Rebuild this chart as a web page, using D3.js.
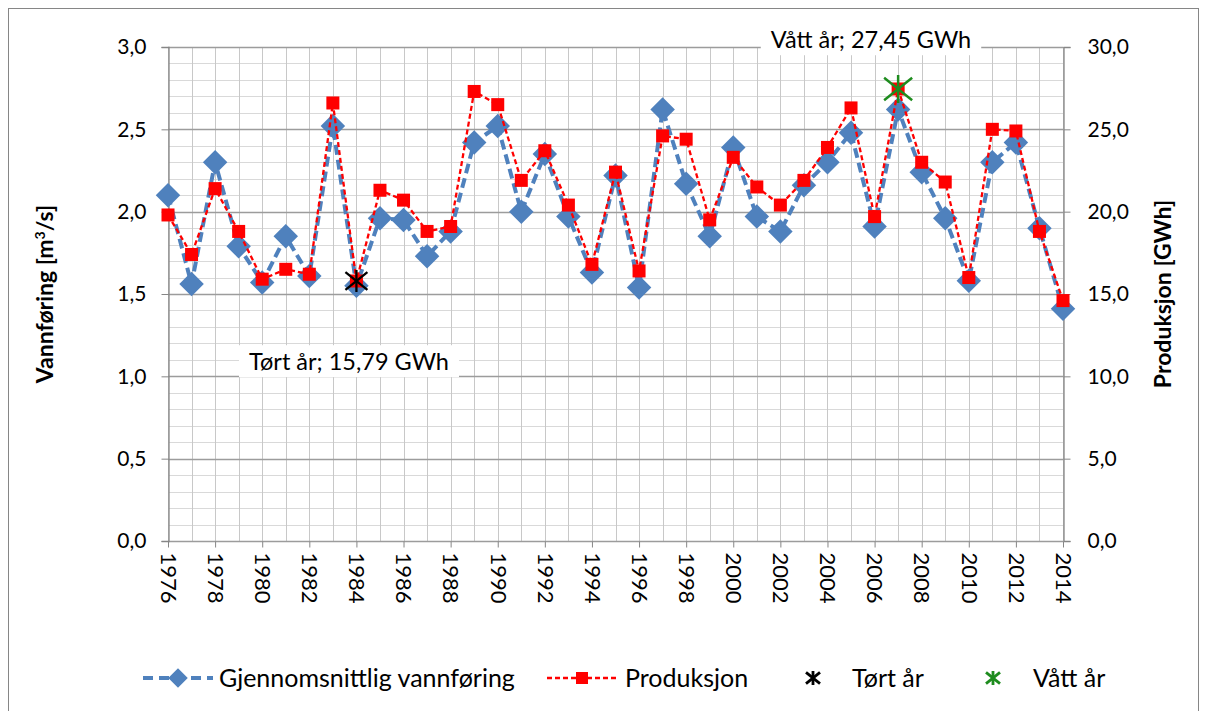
<!DOCTYPE html>
<html lang="no">
<head>
<meta charset="utf-8">
<title>Vannføring og produksjon</title>
<script src="https://d3js.org/d3.v7.min.js"></script>
<style>
  body { margin: 0; background: #fff; }
  text { font-family: Lato, "Open Sans", sans-serif; fill: #000; }
</style>
</head>
<body>
<div id="chart"></div>
<script>
    // data
    var years = d3.range(1976, 2015);
    var vannforing = [2.10, 1.56, 2.30, 1.79, 1.57, 1.85, 1.61, 2.52, 1.55, 1.96,
                      1.95, 1.73, 1.88, 2.42, 2.52, 2.00, 2.35, 1.97, 1.63, 2.22,
                      1.54, 2.62, 2.17, 1.85, 2.39, 1.97, 1.88, 2.16, 2.30, 2.48,
                      1.91, 2.62, 2.24, 1.96, 1.58, 2.30, 2.42, 1.90, 1.41];
    var produksjon = [19.8, 17.4, 21.4, 18.8, 15.9, 16.5, 16.2, 26.6, 15.79, 21.3,
                      20.7, 18.8, 19.1, 27.3, 26.5, 21.9, 23.7, 20.4, 16.8, 22.4,
                      16.4, 24.6, 24.4, 19.5, 23.3, 21.5, 20.4, 21.9, 23.9, 26.3,
                      19.7, 27.45, 23.0, 21.8, 16.0, 25.0, 24.9, 18.8, 14.6];
    var tortAr = {year: 1984, value: 15.79, label: "Tørt år; 15,79 GWh"};
    var vattAr = {year: 2007, value: 27.45, label: "Vått år; 27,45 GWh"};
    var leftTicks = [0, 0.5, 1, 1.5, 2, 2.5, 3];
    var rightTicks = [0, 5, 10, 15, 20, 25, 30];
    var legendItems = ["Gjennomsnittlig vannføring", "Produksjon", "Tørt år", "Vått år"];

    var w = 1206, h = 711;
    var blue = "#4f81bd", red = "#ff0000", green = "#1e8c1e";
    var comma = function(d) { return d3.format(".1f")(d).replace(".", ","); };

    var svg = d3.select("#chart").append("svg").attr("width", w).attr("height", h);

    // outer frame
    svg.append("rect").attr("x", 8.5).attr("y", 8.5).attr("width", 1190).attr("height", 720)
        .attr("fill", "white").attr("stroke", "#868686");

    // scales
    var x = d3.scaleLinear().domain([1976, 2014]).range([168, 1063]);
    var yL = d3.scaleLinear().domain([0, 3]).range([541, 47]);
    var yR = d3.scaleLinear().domain([0, 30]).range([541, 47]);

    // grid
    var grid = svg.append("g");
    grid.selectAll("line.minor").data(d3.range(0, 3.01, 0.1)).enter().append("line")
        .attr("x1", x(1976)).attr("x2", x(2014))
        .attr("y1", function(d) { return Math.round(yL(d)) + 0.5; })
        .attr("y2", function(d) { return Math.round(yL(d)) + 0.5; })
        .attr("stroke", "#d9d9d9").attr("stroke-width", 1);
    grid.selectAll("line.vert").data(years).enter().append("line")
        .attr("x1", function(d) { return Math.round(x(d)) + 0.5; })
        .attr("x2", function(d) { return Math.round(x(d)) + 0.5; })
        .attr("y1", yL(3)).attr("y2", yL(0))
        .attr("stroke", "#c8c8c8").attr("stroke-width", 1);
    grid.selectAll("line.major").data(leftTicks).enter().append("line")
        .attr("x1", x(1976)).attr("x2", x(2014))
        .attr("y1", function(d) { return Math.round(yL(d)) + 0.5; })
        .attr("y2", function(d) { return Math.round(yL(d)) + 0.5; })
        .attr("stroke", "#9c9c9c").attr("stroke-width", 1.3);

    // axes
    var axL = svg.append("g").attr("transform", "translate(" + (Math.round(x(1976)) + 0.5) + ",0)")
        .call(d3.axisLeft(yL).tickValues(leftTicks).tickFormat(comma).tickSize(7).tickPadding(15));
    var axR = svg.append("g").attr("transform", "translate(" + (Math.round(x(2014)) + 0.5) + ",0)")
        .call(d3.axisRight(yR).tickValues(rightTicks).tickFormat(comma).tickSize(7).tickPadding(17));
    var axB = svg.append("g").attr("transform", "translate(0," + (Math.round(yL(0)) + 0.5) + ")")
        .call(d3.axisBottom(x).tickValues(d3.range(1976, 2015, 2)).tickFormat(d3.format("d")).tickSize(6));
    [axL, axR, axB].forEach(function(a) {
        a.selectAll("path").attr("stroke", "#868686").attr("stroke-width", 1.3);
        a.selectAll("line").attr("stroke", "#868686");
        a.selectAll("text").style("font-size", "21px").attr("fill", "#000");
    });
    axB.selectAll("text").attr("transform", "rotate(90)").attr("text-anchor", "start")
        .attr("x", 11).attr("y", 0).attr("dy", "0.35em").style("font-size", "22px");
    axB.select("path").remove();

    // axis titles
    svg.append("text").attr("transform", "translate(53,294) rotate(-90)")
        .attr("text-anchor", "middle").style("font-size", "23px").style("font-weight", "bold")
        .html("Vannføring [m<tspan dy='-8' font-size='14px'>3</tspan><tspan dy='8'>/s]</tspan>");
    svg.append("text").attr("transform", "translate(1171,294) rotate(-90)")
        .attr("text-anchor", "middle").style("font-size", "23px").style("font-weight", "bold")
        .text("Produksjon [GWh]");

    // blue series
    var lineL = d3.line().x(function(d, i) { return x(years[i]); }).y(function(d) { return yL(d); });
    svg.append("path").datum(vannforing).attr("d", lineL).attr("fill", "none")
        .attr("stroke", blue).attr("stroke-width", 4).attr("stroke-dasharray", "10,5");
    svg.selectAll("path.dia").data(vannforing).enter().append("path")
        .attr("d", d3.symbol().type(d3.symbolSquare).size(300))
        .attr("transform", function(d, i) { return "translate(" + x(years[i]) + "," + yL(d) + ") rotate(45)"; })
        .attr("fill", blue);

    // red series
    var lineR = d3.line().x(function(d, i) { return x(years[i]); }).y(function(d) { return yR(d); });
    svg.append("path").datum(produksjon).attr("d", lineR).attr("fill", "none")
        .attr("stroke", red).attr("stroke-width", 2.3).attr("stroke-dasharray", "5,3");
    svg.selectAll("rect.sq").data(produksjon).enter().append("rect")
        .attr("x", function(d, i) { return x(years[i]) - 6.5; })
        .attr("y", function(d) { return yR(d) - 6.5; })
        .attr("width", 13).attr("height", 13).attr("fill", red);

    // asterisk markers
    function star(g, cx, cy, r, col, sw) {
        var s = g.append("g").attr("transform", "translate(" + cx + "," + cy + ")")
            .attr("stroke", col).attr("stroke-width", sw);
        s.append("line").attr("x1", -r).attr("y1", -r * 0.8).attr("x2", r).attr("y2", r * 0.8);
        s.append("line").attr("x1", -r).attr("y1", r * 0.8).attr("x2", r).attr("y2", -r * 0.8);
        s.append("line").attr("x1", 0).attr("y1", -r).attr("x2", 0).attr("y2", r);
    }
    star(svg, x(tortAr.year), yR(tortAr.value), 11, "#000", 2.3);
    star(svg, x(vattAr.year), yR(vattAr.value), 14, green, 2.5);

    // annotations
    function note(cx, cy, txt) {
        var t = svg.append("text").attr("x", cx).attr("y", cy).attr("text-anchor", "middle")
            .attr("dy", "0.35em").style("font-size", "23.5px").text(txt);
        var b = t.node().getBBox();
        svg.insert("rect", function() { return t.node(); })
            .attr("x", b.x - 10).attr("y", b.y - 2).attr("width", b.width + 20).attr("height", b.height + 4)
            .attr("fill", "white");
    }
    note(349, 362, tortAr.label);
    note(871, 40, vattAr.label);

    // legend
    var lg = svg.append("g").attr("transform", "translate(0,678)");
    lg.append("line").attr("x1", 143).attr("x2", 213).attr("stroke", blue).attr("stroke-width", 4).attr("stroke-dasharray", "10,6");
    lg.append("path").attr("d", d3.symbol().type(d3.symbolSquare).size(190)).attr("transform", "translate(178,0) rotate(45)").attr("fill", blue);
    lg.append("text").attr("x", 219).attr("dy", "0.35em").style("font-size", "25px").text(legendItems[0]);
    lg.append("line").attr("x1", 547).attr("x2", 618).attr("stroke", red).attr("stroke-width", 2.3).attr("stroke-dasharray", "5,3");
    lg.append("rect").attr("x", 576).attr("y", -6).attr("width", 12).attr("height", 12).attr("fill", red);
    lg.append("text").attr("x", 625).attr("dy", "0.35em").style("font-size", "25px").text(legendItems[1]);
    star(lg, 813, 0, 7, "#000", 2.8);
    lg.append("text").attr("x", 852).attr("dy", "0.35em").style("font-size", "25px").text(legendItems[2]);
    star(lg, 993, 0, 7, green, 2.8);
    lg.append("text").attr("x", 1033).attr("dy", "0.35em").style("font-size", "25px").text(legendItems[3]);
</script>
</body>
</html>
